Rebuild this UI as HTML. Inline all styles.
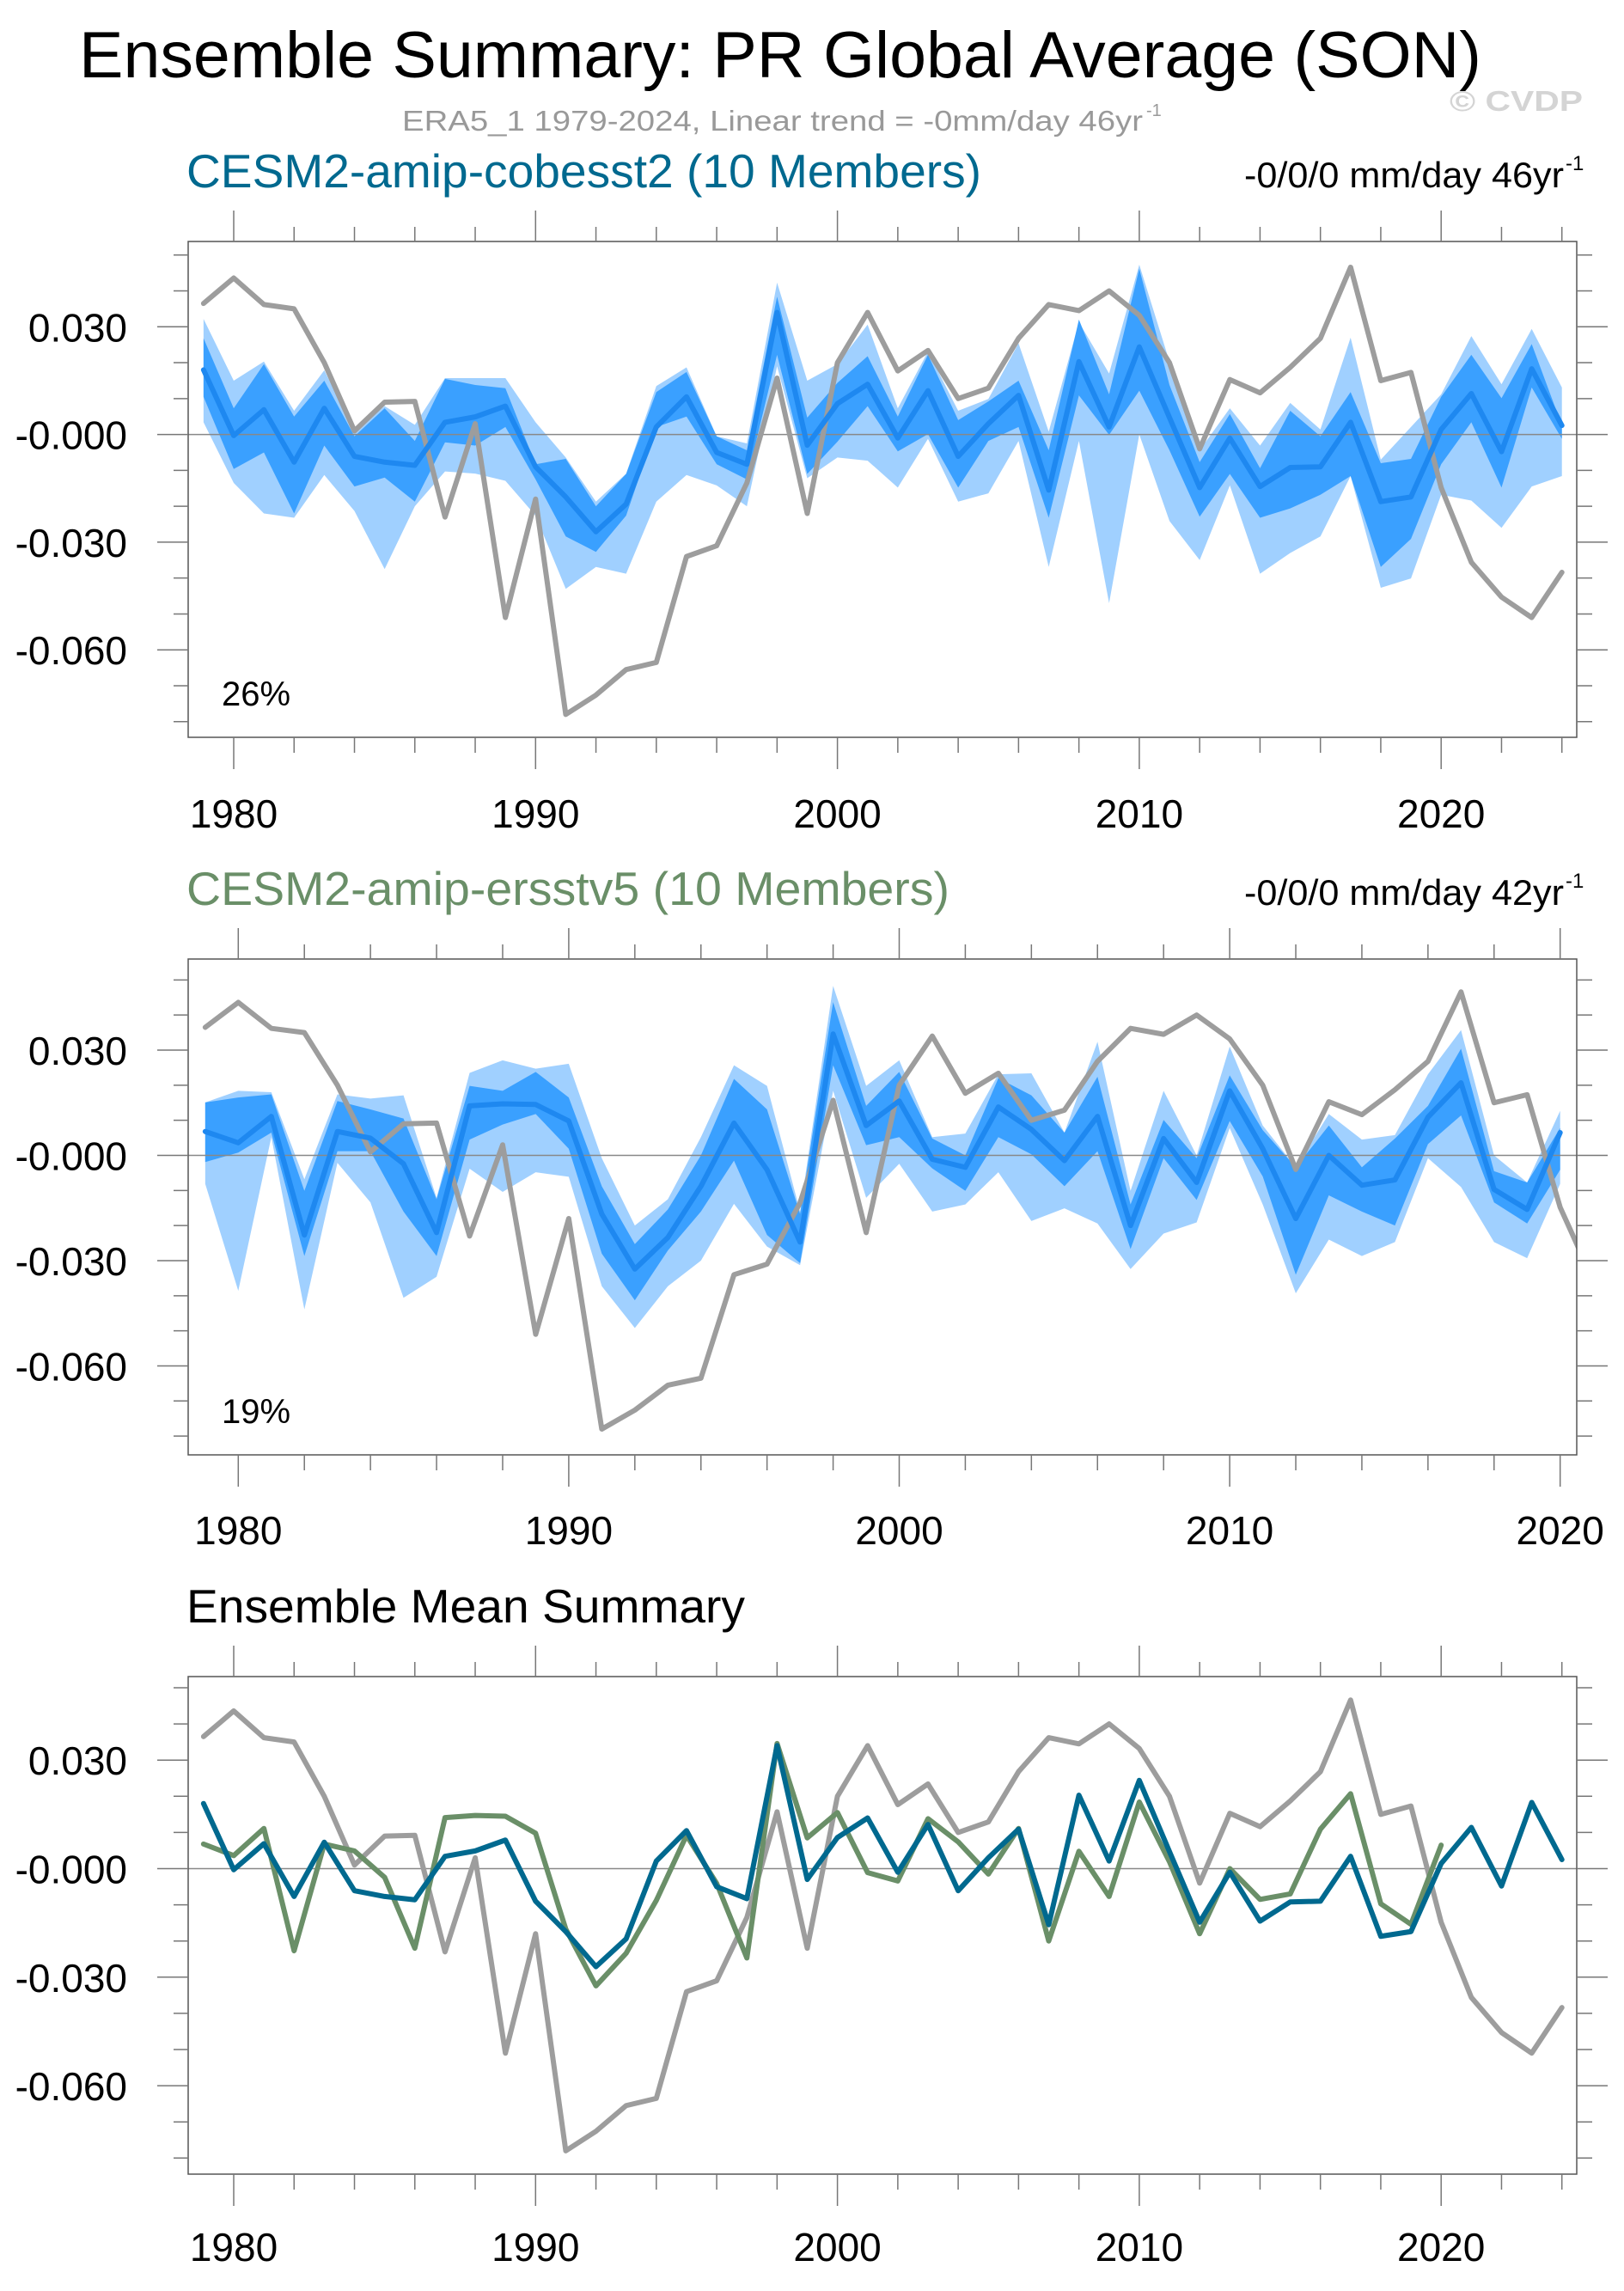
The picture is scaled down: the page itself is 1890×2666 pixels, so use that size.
<!DOCTYPE html>
<html><head><meta charset="utf-8"><style>
html,body{margin:0;padding:0;background:#fff}
svg{display:block}
text{font-family:"Liberation Sans",sans-serif}
</style></head><body>
<svg id="fig" width="1890" height="2666" viewBox="0 0 1890 2666" xmlns="http://www.w3.org/2000/svg">
<text x="92" y="90" font-size="76" fill="#000" textLength="1632" lengthAdjust="spacingAndGlyphs">Ensemble Summary: PR Global Average (SON)</text>
<text x="468" y="152" font-size="33" fill="#999" textLength="862" lengthAdjust="spacingAndGlyphs">ERA5_1 1979-2024, Linear trend = -0mm/day 46yr</text>
<text x="1334" y="135" font-size="20" fill="#999">-1</text>
<text x="1687" y="129" font-size="33" font-weight="bold" fill="#d4d4d4" textLength="155" lengthAdjust="spacingAndGlyphs">© CVDP</text>
<g id="panels"></g>
</svg>
<script>
const years1 = [1979,1980,1981,1982,1983,1984,1985,1986,1987,1988,1989,1990,1991,1992,1993,1994,1995,1996,1997,1998,1999,2000,2001,2002,2003,2004,2005,2006,2007,2008,2009,2010,2011,2012,2013,2014,2015,2016,2017,2018,2019,2020,2021,2022,2023,2024];
const era5 = [0.0365,0.0436,0.0362,0.035,0.020,0.001,0.009,0.0092,-0.023,0.003,-0.051,-0.018,-0.078,-0.0726,-0.0655,-0.0635,-0.034,-0.031,-0.0135,0.0157,-0.022,0.020,0.034,0.0177,0.0234,0.010,0.0129,0.0268,0.0362,0.0345,0.040,0.0332,0.020,-0.004,0.0153,0.0116,0.0187,0.0268,0.0466,0.015,0.0173,-0.0148,-0.0356,-0.0453,-0.051,-0.0384];
const cobMean = [0.018,-0.0003,0.0069,-0.0077,0.0073,-0.0061,-0.0077,-0.0086,0.0034,0.0049,0.0079,-0.009,-0.0174,-0.0271,-0.0194,0.0021,0.0105,-0.005,-0.0083,0.034,-0.003,0.0086,0.014,-0.001,0.0122,-0.0061,0.003,0.0109,-0.0155,0.0203,0.0021,0.0244,0.0047,-0.0148,-0.001,-0.0145,-0.0092,-0.009,0.0034,-0.0187,-0.0174,0.0014,0.0114,-0.0048,0.0183,0.0025];
const cobDarkHi = [0.0268,0.0073,0.0196,0.005,0.015,-0.0005,0.0073,-0.0018,0.0155,0.0138,0.0129,-0.0083,-0.0068,-0.020,-0.011,0.0118,0.0174,-0.0005,-0.0044,0.0384,0.0047,0.0144,0.0218,0.005,0.0222,0.004,0.0092,0.015,-0.0044,0.032,0.0112,0.0462,0.0138,-0.0077,0.0057,-0.0094,0.0066,-0.0005,0.0118,-0.008,-0.0068,0.0105,0.0222,0.0101,0.0252,0.0025];
const cobDarkLo = [0.0105,-0.0096,-0.005,-0.022,-0.0031,-0.0145,-0.012,-0.0187,-0.0022,-0.0031,0.0021,-0.0125,-0.0284,-0.0327,-0.0226,0.0021,0.005,-0.0083,-0.0125,0.0222,-0.011,-0.002,0.0079,-0.0047,0.0001,-0.0148,-0.0018,0.0021,-0.0232,0.0109,-0.0001,0.0122,-0.0044,-0.0229,-0.011,-0.0232,-0.0206,-0.0168,-0.0116,-0.0369,-0.0291,-0.0083,0.0034,-0.0148,0.0131,-0.0012];
const cobLightHi = [0.0322,0.015,0.0203,0.0066,0.0179,0.0008,0.0079,0.0027,0.0157,0.0157,0.0157,0.0034,-0.0064,-0.0187,-0.0109,0.0135,0.0187,-0.0005,-0.0025,0.0423,0.015,0.0196,0.0306,0.0073,0.0231,0.0066,0.0099,0.0254,0.0008,0.0313,0.017,0.0473,0.0203,-0.0044,0.0073,-0.0031,0.0088,0.0014,0.027,-0.007,0.0021,0.0112,0.0274,0.014,0.0294,0.0131];
const cobLightLo = [0.0034,-0.0135,-0.022,-0.0232,-0.0113,-0.0213,-0.0375,-0.020,-0.0103,-0.0109,-0.0129,-0.0226,-0.043,-0.0369,-0.0388,-0.0187,-0.0113,-0.0142,-0.020,0.019,-0.0122,-0.0064,-0.0073,-0.0148,-0.0012,-0.0187,-0.0164,-0.0018,-0.0369,-0.0018,-0.047,0.0,-0.0241,-0.035,-0.0142,-0.0388,-0.033,-0.0284,-0.0116,-0.0427,-0.0401,-0.0168,-0.0184,-0.026,-0.0145,-0.0116];
const years2 = years1.slice(0,42);
const ersMean = [0.0068,0.0036,0.0111,-0.0227,0.0068,0.0049,-0.0024,-0.022,0.0141,0.0147,0.0145,0.0098,-0.0167,-0.0324,-0.0234,-0.0088,0.0092,-0.0041,-0.0247,0.0346,0.0085,0.0155,-0.0011,-0.0034,0.0138,0.0074,-0.0015,0.0111,-0.020,0.0048,-0.0077,0.0184,0.0019,-0.018,0.0,-0.0085,-0.007,0.0109,0.0207,-0.0097,-0.0154,0.0065];
const ersDarkHi = [0.0151,0.0165,0.0174,-0.0101,0.0155,0.0131,0.0105,-0.0125,0.0198,0.0184,0.0238,0.0165,-0.0088,-0.0253,-0.0154,0.0,0.0218,0.0131,-0.0167,0.0437,0.0141,0.0238,0.0048,0.0,0.022,0.0171,0.0065,0.0224,-0.014,0.0101,-0.0008,0.0228,0.0072,-0.0034,0.0085,-0.0034,0.0048,0.0141,0.0304,-0.0045,-0.0077,0.0078];
const ersDarkLo = [-0.0019,0.0008,0.0065,-0.0287,0.0012,0.0012,-0.016,-0.0287,0.0045,0.0088,0.0118,0.0019,-0.028,-0.0413,-0.0271,-0.016,-0.0015,-0.0227,-0.0307,0.0257,0.0029,0.0052,-0.0037,-0.0101,0.0052,0.0003,-0.0088,0.0012,-0.0267,-0.0008,-0.0127,0.0098,-0.006,-0.034,-0.0114,-0.016,-0.020,0.0032,0.0114,-0.0134,-0.0194,-0.0041];
const ersLightHi = [0.0151,0.0184,0.018,-0.0068,0.0174,0.0162,0.0171,-0.0121,0.0235,0.0271,0.0247,0.0261,-0.0008,-0.020,-0.0125,0.0052,0.0257,0.0198,-0.016,0.0483,0.0198,0.0271,0.0052,0.0062,0.0231,0.0234,0.0065,0.0324,-0.0101,0.0184,0.0,0.031,0.0085,-0.0034,0.0118,0.0045,0.0058,0.0231,0.0357,0.0,-0.0077,0.0127];
const ersLightLo = [-0.0081,-0.0386,0.0052,-0.0439,-0.0021,-0.0134,-0.0406,-0.0346,-0.0038,-0.0104,-0.0048,-0.0061,-0.0373,-0.0492,-0.0373,-0.030,-0.0138,-0.026,-0.0313,0.0184,-0.0121,-0.0024,-0.016,-0.014,-0.0048,-0.0187,-0.0151,-0.0194,-0.0324,-0.0223,-0.0191,0.0078,-0.014,-0.0393,-0.024,-0.0287,-0.0247,-0.0008,-0.009,-0.0247,-0.0293,-0.0081];
const yTickVals = [0.03,0,-0.03,-0.06];
const yTickLabels = ["0.030","-0.000","-0.030","-0.060"];

const NS="http://www.w3.org/2000/svg";
const root=document.getElementById('panels');
function mk(tag,attrs,parent){const e=document.createElementNS(NS,tag);for(const k in attrs)e.setAttribute(k,attrs[k]);(parent||root).appendChild(e);return e;}

function panel(cfg){
  const g=mk('g',{});
  
  
  const L=219,R=1835,T=cfg.top,B=cfg.bottom;
  const x=v=>cfg.x0+(v-1980)*cfg.pxYr;
  const y=v=>cfg.y0-v*cfg.pxUnit;
  const clipId='clip-'+cfg.name;
  const cp=mk('clipPath',{id:clipId},g);mk('rect',{x:L,y:T,width:R-L,height:B-T},cp);
  const plot=mk('g',{'clip-path':'url(#'+clipId+')'},g);
  function band(hi,lo,yrs,fill,nm){
    let d='M'+yrs.map((yr,i)=>x(yr)+','+y(hi[i])).join('L');
    for(let i=yrs.length-1;i>=0;i--)d+='L'+x(yrs[i])+','+y(lo[i]);
    const p=mk('path',{d:d+'Z',fill:fill},plot);
    
    
  }
  function line(vals,yrs,col,w,nm){
    const p=mk('polyline',{points:yrs.map((yr,i)=>x(yr)+','+y(vals[i])).join(' '),fill:'none',stroke:col,'stroke-width':w,'stroke-linejoin':'round','stroke-linecap':'round'},plot);
    
    
  }
  if(cfg.bands){
    band(cfg.bands.lh,cfg.bands.ll,cfg.yrs,'#a0d0ff','light-spread-band');
    band(cfg.bands.dh,cfg.bands.dl,cfg.yrs,'#3aa0ff','dark-spread-band');
  }
  const z=mk('line',{x1:L,x2:R,y1:y(0),y2:y(0),stroke:'#888','stroke-width':1.5},plot);
  
  
  line(era5,years1,'#9d9d9d',6,'era5-line');
  cfg.lines.forEach(l=>line(l.v,l.yrs,l.c,6,l.n));
  const box=mk('rect',{x:L,y:T,width:R-L,height:B-T,fill:'none',stroke:'#555','stroke-width':1.5},g);
  
  
  for(let yr=cfg.yStart;yr<=cfg.yEnd;yr+=2){
    const maj=yr%10===0, xx=x(yr);
    mk('line',{x1:xx,x2:xx,y1:T,y2:T-(maj?36:17),stroke:'#777','stroke-width':1.5},g);
    mk('line',{x1:xx,x2:xx,y1:B,y2:B+(maj?37:18),stroke:'#777','stroke-width':1.5},g);
    if(maj){const t=mk('text',{x:xx,y:cfg.xlabY,'font-size':46,'text-anchor':'middle'},g);t.textContent=yr;
      
      }
  }
  for(let v=-0.08;v<=0.05001;v+=0.01){
    const r=Math.round(v*100), yy=y(r/100); if(yy<T||yy>B)continue;
    const maj=r%3===0;
    mk('line',{x1:L,x2:L-(maj?36:17),y1:yy,y2:yy,stroke:'#777','stroke-width':1.5},g);
    mk('line',{x1:R,x2:R+(maj?36:18),y1:yy,y2:yy,stroke:'#777','stroke-width':1.5},g);
  }
  yTickVals.forEach((v,i)=>{const t=mk('text',{x:148,y:y(v)+17,'font-size':46,'text-anchor':'end'},g);t.textContent=yTickLabels[i];
    
    });
  const tt=mk('text',{x:217,y:cfg.titleY,'font-size':55,fill:cfg.titleCol,textLength:cfg.titleLen,lengthAdjust:'spacingAndGlyphs'},g);tt.textContent=cfg.title;
  
  
  if(cfg.trend){const t=mk('text',{x:1448,y:cfg.titleY,'font-size':42,textLength:372,lengthAdjust:'spacingAndGlyphs'},g);t.textContent=cfg.trend;
    
    
    const s=mk('text',{x:1822,y:cfg.titleY-20,'font-size':24},g);s.textContent='-1';}
  if(cfg.pct){const t=mk('text',{x:258,y:B-37,'font-size':40},g);t.textContent=cfg.pct;
    
    }
}
panel({name:'panel-cobesst2',top:281,bottom:858,x0:272,pxYr:35.13,y0:505.6,pxUnit:4177,yrs:years1,yStart:1980,yEnd:2024,xlabY:963,
  bands:{lh:cobLightHi,ll:cobLightLo,dh:cobDarkHi,dl:cobDarkLo},lines:[{v:cobMean,yrs:years1,c:'#1e88f0',n:'cobesst2-mean-line'}],
  title:'CESM2-amip-cobesst2 (10 Members)',titleCol:'#00698f',titleY:218,titleLen:925,trend:'-0/0/0 mm/day 46yr',pct:'26%'});
panel({name:'panel-ersstv5',top:1116,bottom:1693,x0:277.3,pxYr:38.46,y0:1344.5,pxUnit:4083,yrs:years2,yStart:1980,yEnd:2020,xlabY:1797,
  bands:{lh:ersLightHi,ll:ersLightLo,dh:ersDarkHi,dl:ersDarkLo},lines:[{v:ersMean,yrs:years2,c:'#1e88f0',n:'ersstv5-mean-line'}],
  title:'CESM2-amip-ersstv5 (10 Members)',titleCol:'#6a8f68',titleY:1053,titleLen:888,trend:'-0/0/0 mm/day 42yr',pct:'19%'});
panel({name:'panel-ensemble-mean',top:1951,bottom:2530,x0:272,pxYr:35.13,y0:2174.5,pxUnit:4210,yrs:years1,yStart:1980,yEnd:2024,xlabY:2631,
  lines:[{v:ersMean,yrs:years2,c:'#6a8f68',n:'ersstv5-mean-line'},{v:cobMean,yrs:years1,c:'#00698f',n:'cobesst2-mean-line'}],
  title:'Ensemble Mean Summary',titleCol:'#000',titleY:1888,titleLen:650});
</script>
</body></html>
